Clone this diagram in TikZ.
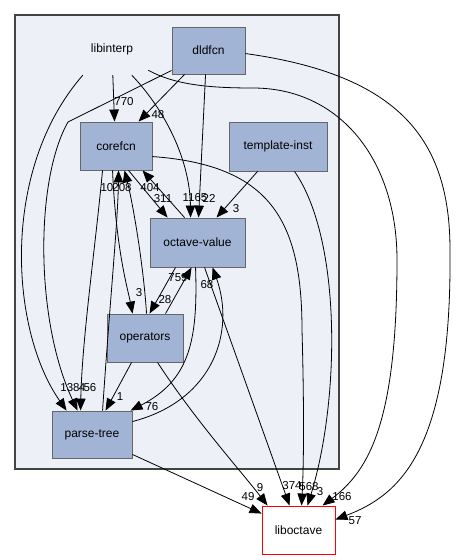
\documentclass[tikz,border=0pt]{standalone}
\usepackage{fontspec}
\setmainfont{Liberation Sans}
\usetikzlibrary{arrows.meta}
\definecolor{nodefill}{HTML}{A2B4D6}
\definecolor{nodeline}{HTML}{666666}
\definecolor{clusterfill}{HTML}{EDF0F7}
\definecolor{clusterline}{HTML}{444444}
\tikzset{
  box/.style={draw=nodeline, fill=nodefill, line width=0.9pt, inner sep=0pt, font=\fontsize{12}{14}\selectfont},
  redbox/.style={draw=red, fill=white, line width=0.9pt, inner sep=0pt, font=\fontsize{12}{14}\selectfont},
  plain/.style={inner sep=0pt, font=\fontsize{12}{14}\selectfont},
  lab/.style={inner sep=0pt, font=\fontsize{11.5}{13}\selectfont},
  dep/.style={line width=0.8pt, -{Triangle[length=12pt,width=9.5pt]}}
}
\begin{document}
\begin{tikzpicture}[x=1pt,y=-1pt]
\path[use as bounding box, fill=white] (0,0) rectangle (456,560);
% cluster
\draw[draw=clusterline, fill=clusterfill, line width=1.8pt] (15,15) rectangle (339,469);
% nodes
\node[plain, minimum width=80pt, minimum height=52pt] (libinterp) at (112,49) {libinterp};
\node[box, minimum width=73pt, minimum height=47pt] (dldfcn) at (208.5,50.5) {dldfcn};
\node[box, minimum width=72pt, minimum height=48pt] (corefcn) at (116,146) {corefcn};
\node[box, minimum width=98pt, minimum height=49pt] (template) at (278,146.5) {template-inst};
\node[box, minimum width=95pt, minimum height=49pt] (octave) at (197.5,242.5) {octave-value};
\node[box, minimum width=76pt, minimum height=48pt] (operators) at (145,338) {operators};
\node[box, minimum width=80pt, minimum height=47pt] (parse) at (92,434.5) {parse-tree};
\node[redbox, minimum width=73pt, minimum height=48pt] (liboctave) at (298.5,530) {liboctave};
% labels
\node[lab] (l770) at (124,102) {770};
\node[lab] (l48) at (158,115) {48};
\node[lab] (l1165) at (195,198) {1165};
\node[lab] (l22) at (209,198) {22};
\node[lab] (l3a) at (236,209) {3};
\node[lab] (l10) at (107,188) {10};
\node[lab] (l208) at (122,188) {208};
\node[lab] (l404) at (150,188) {404};
\node[lab] (l311) at (163,199) {311};
\node[lab] (l3b) at (139,293) {3};
\node[lab] (l759) at (178,278) {759};
\node[lab] (l28) at (165,300) {28};
\node[lab] (l68) at (207,285) {68};
\node[lab] (l138) at (70,388) {138};
\node[lab] (l4) at (82,388) {4};
\node[lab] (l56) at (90,388) {56};
\node[lab] (l1) at (120,397) {1};
\node[lab] (l76) at (152,407) {76};
\node[lab] (l9) at (260,488) {9};
\node[lab] (l49) at (248,497) {49};
\node[lab] (l374) at (292,486) {374};
\node[lab] (l568) at (309,487) {568};
\node[lab] (l3c) at (320,492) {3};
\node[lab] (l166) at (342,497) {166};
\node[lab] (l57) at (355,521) {57};
% edges from libinterp
\draw[dep] ([xshift=41pt]libinterp.south west) -- ([xshift=35pt]corefcn.north west);
\draw[dep] ([xshift=11pt]libinterp.south west) .. controls (0,170) and (10,330) .. ([xshift=15pt]parse.north west);
\draw[dep] ([xshift=60pt]libinterp.south west) .. controls (165,110) and (190,160) .. ([xshift=41pt]octave.north west);
\draw[dep] ([xshift=-4pt,yshift=5pt]libinterp.south east) .. controls (175,85) and (210,88) .. (253,88)
   .. controls (340,88) and (397,160) .. (397,260) .. controls (397,420) and (370,470) .. ([xshift=61pt]liboctave.north west);
% edges from dldfcn
\draw[dep] ([xshift=13pt]dldfcn.south west) -- ([xshift=59pt]corefcn.north west);
\draw[dep] ([xshift=34pt]dldfcn.south west) -- ([xshift=49pt]octave.north west);
\draw[dep] ([yshift=4pt]dldfcn.south west) -- (68,122) .. controls (35,180) and (35,320) .. ([xshift=26pt]parse.north west);
\draw[dep] ([yshift=-27pt]dldfcn.north east) .. controls (400,75) and (450,140) .. (450,250)
   .. controls (452,450) and (400,495) .. ([yshift=-14pt]liboctave.north east);
% edges from template-inst
\draw[dep] ([xshift=29pt]template.south west) -- ([xshift=67pt]octave.north west);
\draw[dep] ([xshift=66pt]template.south west) .. controls (342,240) and (340,400) .. ([xshift=46pt]liboctave.north west);
% edges from corefcn
\draw[dep] ([xshift=49pt]corefcn.south west) -- ([xshift=18pt]octave.north west);
\draw[dep] ([xshift=35pt]octave.north west) -- ([xshift=63pt]corefcn.south west);
\draw[dep] ([xshift=33pt]corefcn.south west) .. controls (116,250) and (128,290) .. ([xshift=26pt]operators.north west);
\draw[dep] ([xshift=40pt]operators.north west) .. controls (143,260) and (132,200) .. ([xshift=45pt]corefcn.south west);
\draw[dep] ([xshift=51pt]parse.north west) .. controls (110,300) and (118,220) .. ([xshift=39pt]corefcn.south west);
\draw[dep] ([xshift=23pt]corefcn.south west) .. controls (95,250) and (82,340) .. ([xshift=29pt]parse.north west);
\draw[dep] ([yshift=-35pt]corefcn.north east) .. controls (270,165) and (302,220) .. (302,330)
   .. controls (304,400) and (304,460) .. ([xshift=40pt]liboctave.north west);
% edges from octave-value
\draw[dep] ([xshift=26pt]octave.south west) -- ([xshift=43pt]operators.north west);
\draw[dep] ([xshift=59pt]operators.north west) -- ([xshift=42pt]octave.south west);
\draw[dep] ([xshift=46pt]octave.south west) .. controls (198,340) and (190,380) .. ([xshift=79pt]parse.north west);
\draw[dep] ([yshift=-11pt]parse.north east) .. controls (215,400) and (235,330) .. ([xshift=63pt]octave.south west);
\draw[dep] ([xshift=55pt]octave.south west) -- ([xshift=28pt]liboctave.north west);
% edges from operators
\draw[dep] ([xshift=25pt]operators.south west) -- ([xshift=54pt]parse.north west);
\draw[dep] ([xshift=51pt]operators.south west) .. controls (195,420) and (240,470) .. ([xshift=6pt]liboctave.north west);
% edges from parse-tree
\draw[dep] ([yshift=4pt]parse.south east) -- ([yshift=-8pt]liboctave.north west);
\end{tikzpicture}
\end{document}
